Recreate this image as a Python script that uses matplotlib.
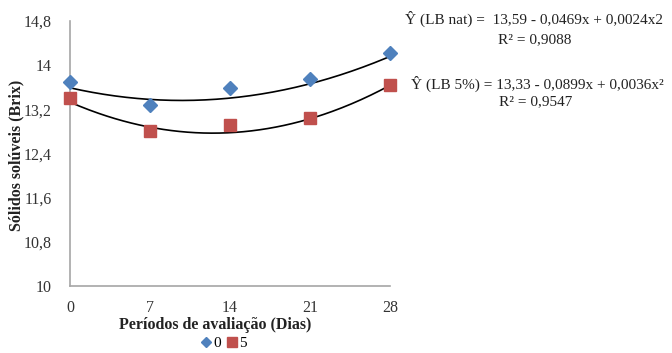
import numpy as np
import matplotlib.pyplot as plt

plt.rcParams['font.family'] = ['Liberation Serif', 'DejaVu Serif']

# Evaluation periods (days) and soluble solids (°Brix)
dias = [0, 7, 14, 21, 28]
brix_0 = [13.70, 13.28, 13.58, 13.75, 14.22]
brix_5 = [13.40, 12.80, 12.91, 13.04, 13.64]

# Quadratic fit coefficients (a, b, c) for y = a + b*x + c*x^2
coef_0 = [13.59, -0.0469, 0.0024]
coef_5 = [13.33, -0.0899, 0.0036]
r2_0 = 0.9088
r2_5 = 0.9547

yticks = [10, 10.8, 11.6, 12.4, 13.2, 14, 14.8]
ytick_labels = ['10', '10,8', '11,6', '12,4', '13,2', '14', '14,8']
xticks = [0, 7, 14, 21, 28]

blue = '#4F81BD'
red = '#C0504D'

W, H = 672, 353
fig = plt.figure(figsize=(W / 100, H / 100), dpi=100)
ax = fig.add_axes([70 / W, 1 - 286 / H, (390 - 70) / W, (286 - 21) / H])

xs = np.linspace(0, 28, 200)
for coef in (coef_0, coef_5):
    ax.plot(xs, coef[0] + coef[1] * xs + coef[2] * xs ** 2, color='black', lw=1.2, zorder=2,
            clip_on=False)

ax.plot(dias, brix_0, ls='none', marker='D', ms=7, color=blue, label='0', zorder=3, clip_on=False)
ax.plot(dias, brix_5, ls='none', marker='s', ms=9, color=red, label='5', zorder=3, clip_on=False)

ax.set_xlim(0, 28)
ax.set_ylim(10, 14.8)
ax.set_xticks(xticks)
ax.set_xticklabels([str(x) for x in xticks])
ax.set_yticks(yticks)
ax.set_yticklabels(ytick_labels)
ax.tick_params(length=0, labelsize=11.5, colors='#333333', pad=10)
ax.tick_params(axis='y', pad=13)

for s in ('top', 'right'):
    ax.spines[s].set_visible(False)
for s in ('left', 'bottom'):
    ax.spines[s].set_color('#a6a6a6')
    ax.spines[s].set_linewidth(1.2)

fig.text(16 / W, 1 - 155 / H, 'Sólidos solúveis (Brix)', rotation=90, ha='center', va='center',
         fontsize=11.5, fontweight='bold', color='#222222')
fig.text(215 / W, 1 - 325 / H, 'Períodos de avaliação (Dias)', ha='center', va='center',
         fontsize=11.5, fontweight='bold', color='#222222')

def fmt(v, nd):
    return f'{v:.{nd}f}'.replace('.', ',')

eq0 = f'Ŷ (LB nat) =  {fmt(coef_0[0], 2)} - {fmt(-coef_0[1], 4)}x + {fmt(coef_0[2], 4)}x2'
eq5 = f'Ŷ (LB 5%) = {fmt(coef_5[0], 2)} - {fmt(-coef_5[1], 4)}x + {fmt(coef_5[2], 4)}x²'
fig.text(534 / W, 1 - 19 / H, eq0, ha='center', va='center', fontsize=11, color='#222222')
fig.text(535 / W, 1 - 40 / H, f'R² = {fmt(r2_0, 4)}', ha='center', va='center', fontsize=11, color='#222222')
fig.text(537 / W, 1 - 84 / H, eq5, ha='center', va='center', fontsize=11, color='#222222')
fig.text(536 / W, 1 - 102 / H, f'R² = {fmt(r2_5, 4)}', ha='center', va='center', fontsize=11, color='#222222')

ax.legend(loc='center', bbox_to_anchor=(224 / W, 1 - 343 / H), bbox_transform=fig.transFigure,
          ncol=2, frameon=False, fontsize=11, handlelength=0.6, handletextpad=0.2,
          columnspacing=0.4, markerscale=0.8, borderpad=0)

fig.savefig('out.png', dpi=100)
